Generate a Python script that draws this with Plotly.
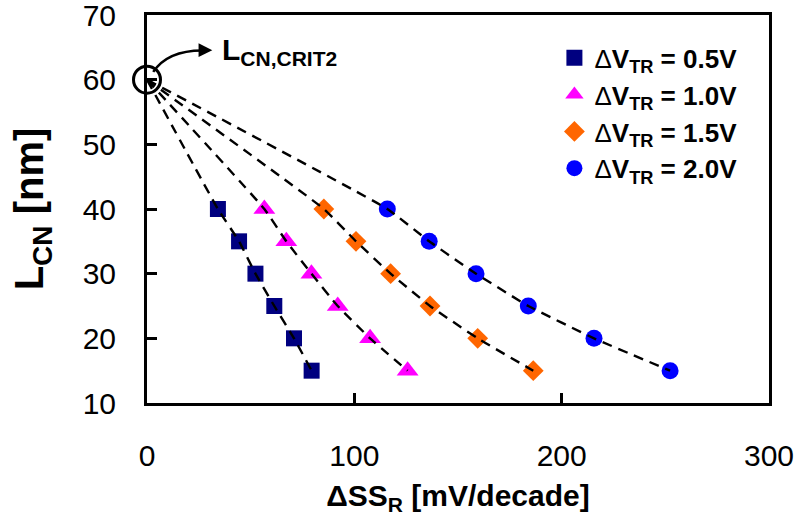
import plotly.graph_objects as go

# ---- data ----
L_cn = [40, 35, 30, 25, 20, 15]
ss_05 = [34.2, 44.4, 52.3, 61.4, 70.9, 79.4]
ss_10 = [56.6, 67.2, 79.3, 92.0, 107.6, 125.7]
ss_15 = [85.3, 100.8, 117.5, 136.5, 159.5, 186.3]
ss_20 = [115.9, 136.1, 158.7, 183.9, 215.6, 252.3]
crit_x = [0]
crit_y = [60]
x_ticks = [0, 100, 200, 300]
y_ticks = [10, 20, 30, 40, 50, 60, 70]

labels = ["0.5V", "1.0V", "1.5V", "2.0V"]
series = [ss_05, ss_10, ss_15, ss_20]
colors = ["#000080", "#FF00FF", "#FF6600", "#0000FF"]
symbols = ["square", "triangle-up", "diamond", "circle"]
sizes = [16, 19, 16, 17]

FONT = "Liberation Sans, Arial, sans-serif"

fig = go.Figure()

for lab, xs, col, sym, sz in zip(labels, series, colors, symbols, sizes):
    fig.add_trace(go.Scatter(
        x=xs, y=L_cn, mode="markers",
        name='<span style="font-weight:normal">Δ</span><b>V<sub>TR</sub> = ' + lab + '</b>',
        legendgroup=lab,
        marker=dict(symbol=sym, size=sz, color=col, line=dict(width=0)),
    ))

# dashed fit curves from L_CN,CRIT2 through the points (drawn on top)
for lab, xs in zip(labels, series):
    fig.add_trace(go.Scatter(
        x=crit_x + xs, y=crit_y + L_cn, mode="lines",
        line=dict(color="black", width=2.4, dash="10px,7px", shape="spline", smoothing=0.35),
        showlegend=False, hoverinfo="skip",
    ))

# open circle marking L_CN,CRIT2
fig.add_trace(go.Scatter(
    x=crit_x, y=crit_y, mode="markers", showlegend=False, cliponaxis=False,
    marker=dict(symbol="circle-open", size=27, color="black", line=dict(width=3, color="black")),
))

# curved arrow
fig.add_shape(type="path", xref="x", yref="y",
              path="M 3.0,61.2 Q 10.5,64.8 29.5,64.5",
              line=dict(color="black", width=2.5))
fig.add_annotation(x=31.5, y=64.55, ax=-10, ay=0, axref="pixel", ayref="pixel",
                   text="", showarrow=True, arrowhead=2, arrowsize=1.1, arrowwidth=2.5,
                   arrowcolor="black")
fig.add_annotation(x=35, y=64.3, xanchor="left", yanchor="middle", showarrow=False,
                   text="<b>L<sub>CN,CRIT2</sub></b>",
                   font=dict(family=FONT, size=30, color="black"))

fig.update_layout(
    width=800, height=521,
    margin=dict(l=147, r=31, t=15, b=118, autoexpand=False),
    paper_bgcolor="white", plot_bgcolor="white",
    font=dict(family=FONT, color="black"),
    showlegend=True,
    legend=dict(x=0.655, y=0.95, xanchor="left", yanchor="top",
                font=dict(family=FONT, size=26, color="black"),
                bgcolor="rgba(0,0,0,0)", tracegroupgap=0, itemwidth=30),
    xaxis=dict(range=[0, 300], tickmode="array", tickvals=x_ticks,
               ticktext=[str(v) for v in x_ticks], automargin=False,
               showline=True, linewidth=3, linecolor="black", mirror=True,
               ticks="inside", ticklen=10, tickwidth=2.5, tickcolor="black",
               showgrid=False, zeroline=False,
               tickfont=dict(family=FONT, size=30, color="black"),
               ticklabelstandoff=24, ticklabeloverflow="allow",
               title=dict(text="<b>ΔSS<sub>R</sub> [mV/decade]</b>",
                          font=dict(family=FONT, size=30, color="black"), standoff=14)),
    yaxis=dict(range=[10, 70], tickmode="array", tickvals=y_ticks,
               ticktext=[str(v) for v in y_ticks], automargin=False,
               showline=True, linewidth=3, linecolor="black", mirror=True,
               ticks="inside", ticklen=10, tickwidth=2.5, tickcolor="black",
               showgrid=False, zeroline=False,
               tickfont=dict(family=FONT, size=30, color="black"),
               ticklabelstandoff=22, ticklabeloverflow="allow",
               title=dict(text="<b>L<sub>CN</sub> [nm]</b>",
                          font=dict(family=FONT, size=40, color="black"), standoff=27)),
)

fig.write_html("out.html")
